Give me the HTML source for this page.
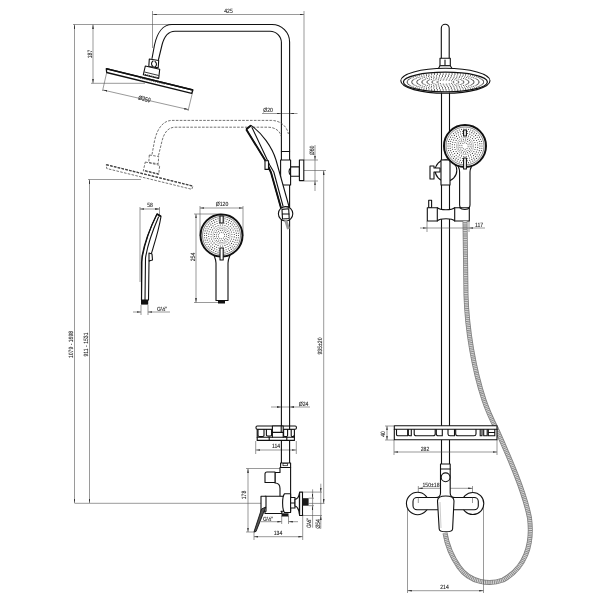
<!DOCTYPE html>
<html><head><meta charset="utf-8">
<style>
html,body{margin:0;padding:0;background:#fff;}
svg{display:block;}
.o{fill:none;stroke:#111;stroke-width:1.1;stroke-linejoin:round;stroke-linecap:round}
.w{fill:#fff;stroke:#111;stroke-width:1.1;stroke-linejoin:round}
.k{fill:none;stroke:#111;stroke-width:1.9;stroke-linejoin:round}
.d{fill:none;stroke:#555;stroke-width:0.6}
.ds{fill:none;stroke:#444;stroke-width:0.75;stroke-dasharray:2.6 1.3}
.dk{fill:none;stroke:#444;stroke-width:1.3;stroke-dasharray:2.4 1.4}
text{font-family:"Liberation Sans",sans-serif;font-size:62px;fill:#222;stroke:#222;stroke-width:1.2;text-rendering:geometricPrecision;-webkit-font-smoothing:antialiased}
svg{will-change:transform}
</style></head>
<body>
<svg width="600" height="600" viewBox="0 0 600 600">
<defs>
<marker id="a" viewBox="0 0 6 2.4" refX="6" refY="1.2" markerWidth="4.4" markerHeight="1.76" markerUnits="userSpaceOnUse" orient="auto-start-reverse">
<path d="M0,0 L6,1.2 L0,2.4 z" fill="#333"/>
</marker>
<pattern id="dots" width="2.5" height="2.5" patternUnits="userSpaceOnUse">
<circle cx="1.25" cy="1.25" r="0.62" fill="#555"/>
</pattern>
</defs>
<rect width="600" height="600" fill="#fff"/>

<!-- ============ LEFT VIEW: DIMENSIONS ============ -->
<g class="d">
<!-- 425 -->
<path d="M152.5,11 V48"/><path d="M304,11 V160"/>
<path d="M152.5,14.5 H304" marker-start="url(#a)" marker-end="url(#a)"/>
<!-- top extension y=24.5 -->
<path d="M73,24.5 H172"/>
<!-- 187 -->
<path d="M93,24.5 V83.3" marker-start="url(#a)" marker-end="url(#a)"/>
<path d="M91,83.3 H145"/>
<!-- 1079-1698 -->
<path d="M74.5,24.5 V503" marker-start="url(#a)" marker-end="url(#a)"/>
<!-- 911-1531 -->
<path d="M89.5,179.5 V503" marker-start="url(#a)" marker-end="url(#a)"/>
<path d="M88,179.5 H141"/>
<path d="M74.5,503.3 H264.5"/>
<!-- Ø250 -->
<path d="M106.7,72.5 L102.5,91"/><path d="M192.5,92.5 L188,111"/>
<path d="M103,90 L188.5,109.6" marker-start="url(#a)" marker-end="url(#a)"/>
<!-- Ø20 -->
<path d="M262,113.5 H281.4" marker-end="url(#a)"/><path d="M297.5,113.5 H289.6" marker-end="url(#a)"/><path d="M281.4,113.5 H289.6"/>
<!-- Ø60 -->
<path d="M304,160 H318"/><path d="M304,181 H318"/>
<path d="M315,145 V160" marker-end="url(#a)"/><path d="M315,191 V181" marker-end="url(#a)"/><path d="M315,160 V181"/>
<!-- 935±20 -->
<path d="M304,170.5 H326"/>
<path d="M323.7,170.5 V503.4" marker-start="url(#a)" marker-end="url(#a)"/>
<path d="M308.6,503.4 H324.5"/>
<!-- Ø24 -->
<path d="M271,407 H281.4" marker-end="url(#a)"/><path d="M310,407 H289.6" marker-end="url(#a)"/><path d="M281.4,407 H289.6"/>
<!-- 114 -->
<path d="M255.7,441 V454"/><path d="M296.3,441 V454"/>
<path d="M255.7,450 H296.3" marker-start="url(#a)" marker-end="url(#a)"/>
<!-- 178 -->
<path d="M246,468.5 H281"/>
<path d="M248,468.5 V532" marker-start="url(#a)" marker-end="url(#a)"/>
<path d="M246,532 H255"/>
<!-- 134 -->
<path d="M254,532 V540"/><path d="M302.7,514 V540"/>
<path d="M254,536.7 H302.7" marker-start="url(#a)" marker-end="url(#a)"/>
<!-- G1/2 mixer bottom -->
<path d="M281.7,516 V524"/><path d="M288.5,516 V524"/>
<path d="M261,521.7 H281.7" marker-end="url(#a)"/><path d="M298,521.7 H288.5" marker-end="url(#a)"/>
<!-- right dims G1/2 Ø54 -->
<path d="M302.5,492.1 H322"/><path d="M302.5,515.5 H322"/>
<path d="M308.6,498.2 H314"/><path d="M308.6,505.7 H314"/>
<path d="M312.6,489.3 V498.2" marker-end="url(#a)"/><path d="M312.6,527.7 V505.7" marker-end="url(#a)"/><path d="M312.6,498.2 V505.7"/>
<path d="M320.8,483.7 V492.1" marker-end="url(#a)"/><path d="M320.8,528.6 V515.5" marker-end="url(#a)"/><path d="M320.8,492.1 V515.5"/>
<!-- 58 -->
<path d="M140,207 V282"/><path d="M159.5,207 V215"/>
<path d="M140,209 H159.5" marker-start="url(#a)" marker-end="url(#a)"/>
<!-- G1/2 side handshower -->
<path d="M141,305 V315"/><path d="M148,305 V315"/>
<path d="M133,312 H141" marker-end="url(#a)"/><path d="M170,312 H148" marker-end="url(#a)"/>
<!-- Ø120 -->
<path d="M200,206 V236"/><path d="M243,206 V236"/>
<path d="M200,208 H243" marker-start="url(#a)" marker-end="url(#a)"/>
<!-- 254 -->
<path d="M194,214 H221"/><path d="M194,302.5 H221"/>
<path d="M196,214 V302.5" marker-start="url(#a)" marker-end="url(#a)"/>
</g>

<!-- dimension texts left -->
<text transform="translate(228.5,13) scale(0.082,0.1)" text-anchor="middle">425</text>
<text transform="translate(92,54) rotate(-90) scale(0.082,0.1)" text-anchor="middle">187</text>
<text transform="translate(73,344.5) rotate(-90) scale(0.082,0.1)" text-anchor="middle">1079 - 1698</text>
<text transform="translate(87.8,344.5) rotate(-90) scale(0.082,0.1)" text-anchor="middle">911 - 1531</text>
<text transform="translate(144,101) rotate(13) scale(0.082,0.1)" text-anchor="middle">Ø250</text>
<text transform="translate(268,111.5) scale(0.082,0.1)" text-anchor="middle">Ø20</text>
<text transform="translate(313.5,150.5) rotate(-90) scale(0.082,0.1)" text-anchor="middle">Ø60</text>
<text transform="translate(321.5,346) rotate(-90) scale(0.082,0.1)" text-anchor="middle">935±20</text>
<text transform="translate(303.5,405.5) scale(0.082,0.1)" text-anchor="middle">Ø24</text>
<text transform="translate(276,447.5) scale(0.082,0.1)" text-anchor="middle">114</text>
<text transform="translate(246.3,495) rotate(-90) scale(0.082,0.1)" text-anchor="middle">178</text>
<text transform="translate(278,534.5) scale(0.082,0.1)" text-anchor="middle">134</text>
<text transform="translate(268,520.5) scale(0.082,0.1)" text-anchor="middle">G½"</text>
<text transform="translate(311.2,523) rotate(-90) scale(0.082,0.1)" text-anchor="middle">G½"</text>
<text transform="translate(319.8,524) rotate(-90) scale(0.082,0.1)" text-anchor="middle">Ø54</text>
<text transform="translate(150,207) scale(0.082,0.1)" text-anchor="middle">58</text>
<text transform="translate(162,310.5) scale(0.082,0.1)" text-anchor="middle">G½"</text>
<text transform="translate(222,205.5) scale(0.082,0.1)" text-anchor="middle">Ø120</text>
<text transform="translate(194.5,257) rotate(-90) scale(0.082,0.1)" text-anchor="middle">254</text>

<!-- ============ LEFT VIEW: SOLID PIPE ============ -->
<g class="o">
<path d="M152,58.5 L154.5,45 C157,33 163,24.5 172,24.5 L272,24.5 A17.6,17.6 0 0 1 289.6,42.1 V160"/>
<path d="M158.5,59.5 L162,45 C164,37 168,31.2 175,31.2 L270,31.2 A11.4,11.4 0 0 1 281.4,42.6 V160"/>
<path d="M281.4,151.5 H289.6"/>
</g>
<!-- nut + base -->
<path class="w" d="M149.3,59 L158.7,60.5 L158.2,67.7 L148.8,66.5 Z"/>
<path class="o" d="M153,61 C151,62.5 151,65 153,66.5 M155,61.5 C157,63 157,65.5 155,67" stroke-width="0.8"/>
<path class="w" d="M145.3,66 L159.7,69.3 L158.7,78.5 L143.3,74.8 Z"/>
<path d="M144.5,72 L158.8,75.5" stroke="#222" stroke-width="0.9"/>
<path d="M145,74.6 L158.6,77.9" stroke="#222" stroke-width="1.2" stroke-dasharray="1.3 0.8"/>
<!-- shower head slab -->
<path d="M106.3,68.6 L192.9,90 L191.8,93.3 L106.7,72.5 Z" fill="#fff" stroke="#111" stroke-width="1.3" stroke-linejoin="round"/>
<path d="M106.3,68.7 L192.9,90.1" stroke="#111" stroke-width="1.5"/>
<path d="M140,78 L165,84.2" stroke="#333" stroke-width="0.8" stroke-dasharray="1.2 1"/>

<!-- ============ LEFT VIEW: DASHED PIPE ============ -->
<g class="ds">
<path d="M152,154.5 L154.5,141 C157,129 163,120.4 172,120.4 L271.3,120.4 C280,120.4 287,126 288.4,134"/>
<path d="M158.5,155.5 L162,141 C164,133 168,127.2 175,127.2 L268,127.2 C275,127.2 280,131 281,135.8"/>
</g>
<g transform="translate(0,96)" class="ds">
<path d="M149.3,59 L158.7,60.5 L158.2,67.7 L148.8,66.5 Z"/>
<path d="M145.3,66 L159.7,69.3 L158.7,78.5 L143.3,74.8 Z"/>
<path d="M145,74.6 L158.6,77.9" stroke-width="1.1"/>
<path d="M106.3,68.6 L192.9,90 L191.8,93.3 L106.7,72.5 Z"/>
<path d="M106.3,68.7 L192.9,90.1" stroke-width="1.3"/>
</g>

<!-- ============ LEFT VIEW: JUNCTION/BRACKET ============ -->
<g class="o">
<path d="M281.4,185 V463"/><path d="M289.6,185 V463"/>
</g>
<rect class="w" x="280.6" y="160" width="10" height="25"/>
<rect class="w" x="290.6" y="166.9" width="8.8" height="9.4"/>
<path class="o" d="M290.6,168 C288.5,170 288.5,173 290.6,175"/>
<rect class="w" x="299.4" y="160" width="4.4" height="20.6"/>

<!-- hand shower side (in use) -->
<path class="w" d="M246.3,129.2 L251,125.4 C262,133 272,147 276,160 L289,206.5 L281,208 L271,172.5 L268,165 Z"/>
<path class="k" d="M246.3,129.5 L265.5,160.8 L271,172.5 L281,208"/>
<path class="o" d="M252,127.5 L269.7,165 L273.8,172 L283,206"/>
<path class="k" d="M246.3,129.2 L251,125.4"/>
<rect class="w" x="265" y="160.8" width="3.5" height="8.6"/>
<!-- holder -->
<circle class="w" cx="285.6" cy="213.8" r="7.2"/>
<path class="w" d="M282,209.4 L288.7,208.8 L289.2,218.5 L282.5,219 Z"/>
<path class="o" d="M282.3,214 H289"/>
<path d="M285.6,220 L288.5,229" stroke="#999" stroke-width="3" fill="none"/>

<!-- ============ SIDE HANDSHOWER (58) ============ -->
<path class="w" d="M157,214 L161,216.5 C158,235 152,250 149,262 L148.5,300 L141.5,300 L141.5,262 C144,245 150,228 157,214 Z"/>
<path class="o" d="M157,214 C150,228 144,245 142,256 L141.5,300"/>
<path class="o" d="M158.5,217 C152,232 147,248 145.5,258 L145,300"/>
<path class="k" d="M157,214 L161,216.5"/>
<path class="w" d="M149,253 L152,254 L152.5,260 L149,261 Z"/>
<rect x="141" y="300" width="7.2" height="4.6" fill="#111"/>

<!-- ============ FRONT HANDSHOWER (Ø120) ============ -->
<path class="w" d="M213.5,254 C215,258 216,260 216,263 V300.5 H228 V263 C228,260 229,258 230.5,254"/>
<circle cx="221.5" cy="235.5" r="21" fill="#fff" stroke="#111" stroke-width="2"/>
<circle cx="221.5" cy="235.5" r="19" fill="none" stroke="#333" stroke-width="0.6"/>
<circle cx="221.5" cy="235.5" r="8.6" fill="none" stroke="#666" stroke-width="0.4"/>
<g fill="#333"><circle cx="231.93" cy="236.68" r="0.55"/><circle cx="231.41" cy="238.97" r="0.55"/><circle cx="230.39" cy="241.09" r="0.55"/><circle cx="228.92" cy="242.92" r="0.55"/><circle cx="227.09" cy="244.39" r="0.55"/><circle cx="224.97" cy="245.41" r="0.55"/><circle cx="222.68" cy="245.93" r="0.55"/><circle cx="220.32" cy="245.93" r="0.55"/><circle cx="218.03" cy="245.41" r="0.55"/><circle cx="215.91" cy="244.39" r="0.55"/><circle cx="214.08" cy="242.92" r="0.55"/><circle cx="212.61" cy="241.09" r="0.55"/><circle cx="211.59" cy="238.97" r="0.55"/><circle cx="211.07" cy="236.68" r="0.55"/><circle cx="211.07" cy="234.32" r="0.55"/><circle cx="211.59" cy="232.03" r="0.55"/><circle cx="212.61" cy="229.91" r="0.55"/><circle cx="214.08" cy="228.08" r="0.55"/><circle cx="215.91" cy="226.61" r="0.55"/><circle cx="218.03" cy="225.59" r="0.55"/><circle cx="220.32" cy="225.07" r="0.55"/><circle cx="222.68" cy="225.07" r="0.55"/><circle cx="224.97" cy="225.59" r="0.55"/><circle cx="227.09" cy="226.61" r="0.55"/><circle cx="228.92" cy="228.08" r="0.55"/><circle cx="230.39" cy="229.91" r="0.55"/><circle cx="231.41" cy="232.03" r="0.55"/><circle cx="231.93" cy="234.32" r="0.55"/><circle cx="234.22" cy="236.92" r="0.55"/><circle cx="233.74" cy="239.23" r="0.55"/><circle cx="232.85" cy="241.42" r="0.55"/><circle cx="231.57" cy="243.40" r="0.55"/><circle cx="229.95" cy="245.12" r="0.55"/><circle cx="228.04" cy="246.51" r="0.55"/><circle cx="225.90" cy="247.52" r="0.55"/><circle cx="223.62" cy="248.12" r="0.55"/><circle cx="221.26" cy="248.30" r="0.55"/><circle cx="218.92" cy="248.04" r="0.55"/><circle cx="216.66" cy="247.35" r="0.55"/><circle cx="214.56" cy="246.26" r="0.55"/><circle cx="212.70" cy="244.80" r="0.55"/><circle cx="211.14" cy="243.02" r="0.55"/><circle cx="209.94" cy="240.99" r="0.55"/><circle cx="209.13" cy="238.77" r="0.55"/><circle cx="208.73" cy="236.45" r="0.55"/><circle cx="208.78" cy="234.08" r="0.55"/><circle cx="209.26" cy="231.77" r="0.55"/><circle cx="210.15" cy="229.58" r="0.55"/><circle cx="211.43" cy="227.60" r="0.55"/><circle cx="213.05" cy="225.88" r="0.55"/><circle cx="214.96" cy="224.49" r="0.55"/><circle cx="217.10" cy="223.48" r="0.55"/><circle cx="219.38" cy="222.88" r="0.55"/><circle cx="221.74" cy="222.70" r="0.55"/><circle cx="224.08" cy="222.96" r="0.55"/><circle cx="226.34" cy="223.65" r="0.55"/><circle cx="228.44" cy="224.74" r="0.55"/><circle cx="230.30" cy="226.20" r="0.55"/><circle cx="231.86" cy="227.98" r="0.55"/><circle cx="233.06" cy="230.01" r="0.55"/><circle cx="233.87" cy="232.23" r="0.55"/><circle cx="234.27" cy="234.55" r="0.55"/><circle cx="236.50" cy="235.50" r="0.55"/><circle cx="236.32" cy="237.85" r="0.55"/><circle cx="235.77" cy="240.14" r="0.55"/><circle cx="234.87" cy="242.31" r="0.55"/><circle cx="233.64" cy="244.32" r="0.55"/><circle cx="232.11" cy="246.11" r="0.55"/><circle cx="230.32" cy="247.64" r="0.55"/><circle cx="228.31" cy="248.87" r="0.55"/><circle cx="226.14" cy="249.77" r="0.55"/><circle cx="223.85" cy="250.32" r="0.55"/><circle cx="221.50" cy="250.50" r="0.55"/><circle cx="219.15" cy="250.32" r="0.55"/><circle cx="216.86" cy="249.77" r="0.55"/><circle cx="214.69" cy="248.87" r="0.55"/><circle cx="212.68" cy="247.64" r="0.55"/><circle cx="210.89" cy="246.11" r="0.55"/><circle cx="209.36" cy="244.32" r="0.55"/><circle cx="208.13" cy="242.31" r="0.55"/><circle cx="207.23" cy="240.14" r="0.55"/><circle cx="206.68" cy="237.85" r="0.55"/><circle cx="206.50" cy="235.50" r="0.55"/><circle cx="206.68" cy="233.15" r="0.55"/><circle cx="207.23" cy="230.86" r="0.55"/><circle cx="208.13" cy="228.69" r="0.55"/><circle cx="209.36" cy="226.68" r="0.55"/><circle cx="210.89" cy="224.89" r="0.55"/><circle cx="212.68" cy="223.36" r="0.55"/><circle cx="214.69" cy="222.13" r="0.55"/><circle cx="216.86" cy="221.23" r="0.55"/><circle cx="219.15" cy="220.68" r="0.55"/><circle cx="221.50" cy="220.50" r="0.55"/><circle cx="223.85" cy="220.68" r="0.55"/><circle cx="226.14" cy="221.23" r="0.55"/><circle cx="228.31" cy="222.13" r="0.55"/><circle cx="230.32" cy="223.36" r="0.55"/><circle cx="232.11" cy="224.89" r="0.55"/><circle cx="233.64" cy="226.68" r="0.55"/><circle cx="234.87" cy="228.69" r="0.55"/><circle cx="235.77" cy="230.86" r="0.55"/><circle cx="236.32" cy="233.15" r="0.55"/><circle cx="238.50" cy="235.50" r="0.55"/><circle cx="238.34" cy="237.81" r="0.55"/><circle cx="237.87" cy="240.09" r="0.55"/><circle cx="237.09" cy="242.27" r="0.55"/><circle cx="236.03" cy="244.33" r="0.55"/><circle cx="234.69" cy="246.23" r="0.55"/><circle cx="233.10" cy="247.92" r="0.55"/><circle cx="231.30" cy="249.39" r="0.55"/><circle cx="229.32" cy="250.59" r="0.55"/><circle cx="227.19" cy="251.52" r="0.55"/><circle cx="224.96" cy="252.14" r="0.55"/><circle cx="222.66" cy="252.46" r="0.55"/><circle cx="220.34" cy="252.46" r="0.55"/><circle cx="218.04" cy="252.14" r="0.55"/><circle cx="215.81" cy="251.52" r="0.55"/><circle cx="213.68" cy="250.59" r="0.55"/><circle cx="211.70" cy="249.39" r="0.55"/><circle cx="209.90" cy="247.92" r="0.55"/><circle cx="208.31" cy="246.23" r="0.55"/><circle cx="206.97" cy="244.33" r="0.55"/><circle cx="205.91" cy="242.27" r="0.55"/><circle cx="205.13" cy="240.09" r="0.55"/><circle cx="204.66" cy="237.81" r="0.55"/><circle cx="204.50" cy="235.50" r="0.55"/><circle cx="204.66" cy="233.19" r="0.55"/><circle cx="205.13" cy="230.91" r="0.55"/><circle cx="205.91" cy="228.73" r="0.55"/><circle cx="206.97" cy="226.67" r="0.55"/><circle cx="208.31" cy="224.77" r="0.55"/><circle cx="209.90" cy="223.08" r="0.55"/><circle cx="211.70" cy="221.61" r="0.55"/><circle cx="213.68" cy="220.41" r="0.55"/><circle cx="215.81" cy="219.48" r="0.55"/><circle cx="218.04" cy="218.86" r="0.55"/><circle cx="220.34" cy="218.54" r="0.55"/><circle cx="222.66" cy="218.54" r="0.55"/><circle cx="224.96" cy="218.86" r="0.55"/><circle cx="227.19" cy="219.48" r="0.55"/><circle cx="229.32" cy="220.41" r="0.55"/><circle cx="231.30" cy="221.61" r="0.55"/><circle cx="233.10" cy="223.08" r="0.55"/><circle cx="234.69" cy="224.77" r="0.55"/><circle cx="236.03" cy="226.67" r="0.55"/><circle cx="237.09" cy="228.73" r="0.55"/><circle cx="237.87" cy="230.91" r="0.55"/><circle cx="238.34" cy="233.19" r="0.55"/></g><g fill="#333"><circle cx="224.60" cy="236.30" r="0.5"/><circle cx="223.54" cy="237.97" r="0.5"/><circle cx="221.70" cy="238.69" r="0.5"/><circle cx="219.79" cy="238.20" r="0.5"/><circle cx="218.52" cy="236.68" r="0.5"/><circle cx="218.40" cy="234.70" r="0.5"/><circle cx="219.46" cy="233.03" r="0.5"/><circle cx="221.30" cy="232.31" r="0.5"/><circle cx="223.21" cy="232.80" r="0.5"/><circle cx="224.48" cy="234.32" r="0.5"/><circle cx="226.64" cy="236.31" r="0.5"/><circle cx="225.93" cy="238.22" r="0.5"/><circle cx="224.56" cy="239.71" r="0.5"/><circle cx="222.71" cy="240.56" r="0.5"/><circle cx="220.69" cy="240.64" r="0.5"/><circle cx="218.78" cy="239.93" r="0.5"/><circle cx="217.29" cy="238.56" r="0.5"/><circle cx="216.44" cy="236.71" r="0.5"/><circle cx="216.36" cy="234.69" r="0.5"/><circle cx="217.07" cy="232.78" r="0.5"/><circle cx="218.44" cy="231.29" r="0.5"/><circle cx="220.29" cy="230.44" r="0.5"/><circle cx="222.31" cy="230.36" r="0.5"/><circle cx="224.22" cy="231.07" r="0.5"/><circle cx="225.71" cy="232.44" r="0.5"/><circle cx="226.56" cy="234.29" r="0.5"/><circle cx="228.50" cy="235.50" r="0.5"/><circle cx="228.19" cy="237.56" r="0.5"/><circle cx="227.28" cy="239.44" r="0.5"/><circle cx="225.86" cy="240.97" r="0.5"/><circle cx="224.06" cy="242.02" r="0.5"/><circle cx="222.02" cy="242.48" r="0.5"/><circle cx="219.94" cy="242.32" r="0.5"/><circle cx="218.00" cy="241.56" r="0.5"/><circle cx="216.37" cy="240.26" r="0.5"/><circle cx="215.19" cy="238.54" r="0.5"/><circle cx="214.58" cy="236.54" r="0.5"/><circle cx="214.58" cy="234.46" r="0.5"/><circle cx="215.19" cy="232.46" r="0.5"/><circle cx="216.37" cy="230.74" r="0.5"/><circle cx="218.00" cy="229.44" r="0.5"/><circle cx="219.94" cy="228.68" r="0.5"/><circle cx="222.02" cy="228.52" r="0.5"/><circle cx="224.06" cy="228.98" r="0.5"/><circle cx="225.86" cy="230.03" r="0.5"/><circle cx="227.28" cy="231.56" r="0.5"/><circle cx="228.19" cy="233.44" r="0.5"/></g>
<rect class="w" x="220" y="216" width="3.2" height="7"/>
<rect class="w" x="220" y="248" width="3.2" height="12"/>
<rect x="218" y="300.5" width="7" height="3" fill="#111"/>

<!-- ============ SOAP TRAY (side) ============ -->
<g>
<rect class="w" x="257.2" y="429.2" width="37.2" height="11.2"/>
<rect class="w" x="256" y="426" width="40.4" height="3.2" rx="1.2"/>
<path class="o" d="M257.2,437.2 H294.4 M269.2,437.2 V440.4 M286.8,437.2 V440.4"/>
<path class="o" d="M258,429.5 V435.5 C258,437 264,437 264,435.5 V429.5"/>
<path class="o" d="M266.4,429.5 V435 C266.4,436.5 271.6,436.5 271.6,435 V429.5"/>
<path class="o" d="M283.6,429.5 V435.5 C283.6,437 287.6,437 287.6,435.5 V429.5"/>
<path class="o" d="M291.2,429.5 V435.5 C291.2,437 294,437 294,435.5"/>
<rect class="w" x="272.4" y="426" width="10.8" height="6.4"/>
<path class="o" d="M272.4,432.4 V437.2 M283.2,432.4 V437.2"/>
<path class="o" d="M281.2,426 V432 M289.6,426 V429.2"/>
</g>

<!-- ============ MIXER (side) ============ -->
<g>
<path class="w" d="M280.6,463 H290.6 V467.5 H280.6 Z"/>
<rect x="283" y="463.5" width="4.5" height="2.2" fill="#fff" stroke="#111" stroke-width="0.7"/>
<path class="w" d="M280,467.5 H290.6 V496.5 H280 V488.5 C280,485 278,483 275,483 V472.5 H280 Z"/>
<path class="w" d="M265,474 C265,472.8 265.8,472 267,472 H275 V482.5 H265 Z"/>
<path class="w" d="M265,496.2 H290.6 V511.3 H281 C282,512 282,513 281.7,513.5 H265 Z"/>
<path class="w" d="M261,496.2 H266 V511.3 H261 Z"/>
<path class="w" d="M284.4,493.8 H290.6 V512.5 H284.4 C282,509 282,497 284.4,493.8 Z"/>
<path class="w" d="M290.6,497.5 H295 V508 H290.6 Z"/>
<path class="o" d="M290.6,503 H295"/>
<path class="w" d="M295,499.4 C297.5,499 299,496 299.4,493 V514.4 C299,511 297.5,506.5 295,506 Z"/>
<rect class="w" x="299.6" y="492.1" width="2.9" height="23.4"/>
<rect x="302.3" y="498.2" width="6.3" height="7.5" fill="#1a1a1a"/>
<rect x="281.5" y="513.3" width="7" height="3.2" fill="#1a1a1a"/>
<path d="M261.5,509 L265.8,507 L256,531.5 L254,531.8 Z" fill="#555" stroke="#111" stroke-width="0.9" stroke-linejoin="round"/>
</g>

<!-- ============ FRONT VIEW ============ -->
<!-- pipe top -->
<path class="o" d="M441.3,58.3 V28.2 A3.95,3.95 0 0 1 449.2,28.2 V58.3"/>
<path class="w" d="M440,58.3 H450.3 V65.8 H440 Z"/>
<path class="o" d="M445,60 V65.8"/>
<path class="w" d="M438,69.2 L440,65.8 H450.3 L452.5,69.2"/>
<!-- head -->
<ellipse cx="445.4" cy="80.8" rx="44.6" ry="12.5" fill="#fff" stroke="#111" stroke-width="1.1"/>
<ellipse cx="445.4" cy="82" rx="42" ry="9.8" fill="none" stroke="#111" stroke-width="1.2"/>
<g fill="#333"><circle cx="453.80" cy="82.00" r="0.5"/><circle cx="453.23" cy="82.71" r="0.5"/><circle cx="451.61" cy="83.32" r="0.5"/><circle cx="449.14" cy="83.75" r="0.5"/><circle cx="446.18" cy="83.95" r="0.5"/><circle cx="443.10" cy="83.89" r="0.5"/><circle cx="440.34" cy="83.56" r="0.5"/><circle cx="438.26" cy="83.03" r="0.5"/><circle cx="437.14" cy="82.36" r="0.5"/><circle cx="437.14" cy="81.64" r="0.5"/><circle cx="438.26" cy="80.97" r="0.5"/><circle cx="440.34" cy="80.44" r="0.5"/><circle cx="443.10" cy="80.11" r="0.5"/><circle cx="446.18" cy="80.05" r="0.5"/><circle cx="449.14" cy="80.25" r="0.5"/><circle cx="451.61" cy="80.68" r="0.5"/><circle cx="453.23" cy="81.29" r="0.5"/><circle cx="458.76" cy="82.35" r="0.5"/><circle cx="458.09" cy="83.04" r="0.5"/><circle cx="456.78" cy="83.67" r="0.5"/><circle cx="454.90" cy="84.22" r="0.5"/><circle cx="452.55" cy="84.66" r="0.5"/><circle cx="449.84" cy="84.96" r="0.5"/><circle cx="446.90" cy="85.12" r="0.5"/><circle cx="443.90" cy="85.12" r="0.5"/><circle cx="440.96" cy="84.96" r="0.5"/><circle cx="438.25" cy="84.66" r="0.5"/><circle cx="435.90" cy="84.22" r="0.5"/><circle cx="434.02" cy="83.67" r="0.5"/><circle cx="432.71" cy="83.04" r="0.5"/><circle cx="432.04" cy="82.35" r="0.5"/><circle cx="432.04" cy="81.65" r="0.5"/><circle cx="432.71" cy="80.96" r="0.5"/><circle cx="434.02" cy="80.33" r="0.5"/><circle cx="435.90" cy="79.78" r="0.5"/><circle cx="438.25" cy="79.34" r="0.5"/><circle cx="440.96" cy="79.04" r="0.5"/><circle cx="443.90" cy="78.88" r="0.5"/><circle cx="446.90" cy="78.88" r="0.5"/><circle cx="449.84" cy="79.04" r="0.5"/><circle cx="452.55" cy="79.34" r="0.5"/><circle cx="454.90" cy="79.78" r="0.5"/><circle cx="456.78" cy="80.33" r="0.5"/><circle cx="458.09" cy="80.96" r="0.5"/><circle cx="458.76" cy="81.65" r="0.5"/><circle cx="463.88" cy="82.00" r="0.5"/><circle cx="463.64" cy="82.69" r="0.5"/><circle cx="462.93" cy="83.37" r="0.5"/><circle cx="461.76" cy="84.00" r="0.5"/><circle cx="460.17" cy="84.59" r="0.5"/><circle cx="458.20" cy="85.11" r="0.5"/><circle cx="455.90" cy="85.55" r="0.5"/><circle cx="453.32" cy="85.90" r="0.5"/><circle cx="450.54" cy="86.14" r="0.5"/><circle cx="447.63" cy="86.28" r="0.5"/><circle cx="444.66" cy="86.31" r="0.5"/><circle cx="441.70" cy="86.22" r="0.5"/><circle cx="438.85" cy="86.03" r="0.5"/><circle cx="436.16" cy="85.73" r="0.5"/><circle cx="433.71" cy="85.34" r="0.5"/><circle cx="431.57" cy="84.86" r="0.5"/><circle cx="429.78" cy="84.30" r="0.5"/><circle cx="428.40" cy="83.69" r="0.5"/><circle cx="427.46" cy="83.03" r="0.5"/><circle cx="426.98" cy="82.35" r="0.5"/><circle cx="426.98" cy="81.65" r="0.5"/><circle cx="427.46" cy="80.97" r="0.5"/><circle cx="428.40" cy="80.31" r="0.5"/><circle cx="429.78" cy="79.70" r="0.5"/><circle cx="431.57" cy="79.14" r="0.5"/><circle cx="433.71" cy="78.66" r="0.5"/><circle cx="436.16" cy="78.27" r="0.5"/><circle cx="438.85" cy="77.97" r="0.5"/><circle cx="441.70" cy="77.78" r="0.5"/><circle cx="444.66" cy="77.69" r="0.5"/><circle cx="447.63" cy="77.72" r="0.5"/><circle cx="450.54" cy="77.86" r="0.5"/><circle cx="453.32" cy="78.10" r="0.5"/><circle cx="455.90" cy="78.45" r="0.5"/><circle cx="458.20" cy="78.89" r="0.5"/><circle cx="460.17" cy="79.41" r="0.5"/><circle cx="461.76" cy="80.00" r="0.5"/><circle cx="462.93" cy="80.63" r="0.5"/><circle cx="463.64" cy="81.31" r="0.5"/><circle cx="468.87" cy="82.34" r="0.5"/><circle cx="468.50" cy="83.03" r="0.5"/><circle cx="467.77" cy="83.70" r="0.5"/><circle cx="466.68" cy="84.34" r="0.5"/><circle cx="465.26" cy="84.94" r="0.5"/><circle cx="463.52" cy="85.50" r="0.5"/><circle cx="461.50" cy="86.00" r="0.5"/><circle cx="459.22" cy="86.44" r="0.5"/><circle cx="456.73" cy="86.81" r="0.5"/><circle cx="454.06" cy="87.10" r="0.5"/><circle cx="451.25" cy="87.32" r="0.5"/><circle cx="448.35" cy="87.44" r="0.5"/><circle cx="445.40" cy="87.49" r="0.5"/><circle cx="442.45" cy="87.44" r="0.5"/><circle cx="439.55" cy="87.32" r="0.5"/><circle cx="436.74" cy="87.10" r="0.5"/><circle cx="434.07" cy="86.81" r="0.5"/><circle cx="431.58" cy="86.44" r="0.5"/><circle cx="429.30" cy="86.00" r="0.5"/><circle cx="427.28" cy="85.50" r="0.5"/><circle cx="425.54" cy="84.94" r="0.5"/><circle cx="424.12" cy="84.34" r="0.5"/><circle cx="423.03" cy="83.70" r="0.5"/><circle cx="422.30" cy="83.03" r="0.5"/><circle cx="421.93" cy="82.34" r="0.5"/><circle cx="421.93" cy="81.66" r="0.5"/><circle cx="422.30" cy="80.97" r="0.5"/><circle cx="423.03" cy="80.30" r="0.5"/><circle cx="424.12" cy="79.66" r="0.5"/><circle cx="425.54" cy="79.06" r="0.5"/><circle cx="427.28" cy="78.50" r="0.5"/><circle cx="429.30" cy="78.00" r="0.5"/><circle cx="431.58" cy="77.56" r="0.5"/><circle cx="434.07" cy="77.19" r="0.5"/><circle cx="436.74" cy="76.90" r="0.5"/><circle cx="439.55" cy="76.68" r="0.5"/><circle cx="442.45" cy="76.56" r="0.5"/><circle cx="445.40" cy="76.51" r="0.5"/><circle cx="448.35" cy="76.56" r="0.5"/><circle cx="451.25" cy="76.68" r="0.5"/><circle cx="454.06" cy="76.90" r="0.5"/><circle cx="456.73" cy="77.19" r="0.5"/><circle cx="459.22" cy="77.56" r="0.5"/><circle cx="461.50" cy="78.00" r="0.5"/><circle cx="463.52" cy="78.50" r="0.5"/><circle cx="465.26" cy="79.06" r="0.5"/><circle cx="466.68" cy="79.66" r="0.5"/><circle cx="467.77" cy="80.30" r="0.5"/><circle cx="468.50" cy="80.97" r="0.5"/><circle cx="468.87" cy="81.66" r="0.5"/><circle cx="473.96" cy="82.00" r="0.5"/><circle cx="473.80" cy="82.70" r="0.5"/><circle cx="473.34" cy="83.39" r="0.5"/><circle cx="472.56" cy="84.06" r="0.5"/><circle cx="471.49" cy="84.71" r="0.5"/><circle cx="470.13" cy="85.33" r="0.5"/><circle cx="468.51" cy="85.92" r="0.5"/><circle cx="466.62" cy="86.46" r="0.5"/><circle cx="464.51" cy="86.95" r="0.5"/><circle cx="462.19" cy="87.39" r="0.5"/><circle cx="459.68" cy="87.77" r="0.5"/><circle cx="457.02" cy="88.09" r="0.5"/><circle cx="454.23" cy="88.34" r="0.5"/><circle cx="451.34" cy="88.52" r="0.5"/><circle cx="448.39" cy="88.63" r="0.5"/><circle cx="445.40" cy="88.66" r="0.5"/><circle cx="442.41" cy="88.63" r="0.5"/><circle cx="439.46" cy="88.52" r="0.5"/><circle cx="436.57" cy="88.34" r="0.5"/><circle cx="433.78" cy="88.09" r="0.5"/><circle cx="431.12" cy="87.77" r="0.5"/><circle cx="428.61" cy="87.39" r="0.5"/><circle cx="426.29" cy="86.95" r="0.5"/><circle cx="424.18" cy="86.46" r="0.5"/><circle cx="422.29" cy="85.92" r="0.5"/><circle cx="420.67" cy="85.33" r="0.5"/><circle cx="419.31" cy="84.71" r="0.5"/><circle cx="418.24" cy="84.06" r="0.5"/><circle cx="417.46" cy="83.39" r="0.5"/><circle cx="417.00" cy="82.70" r="0.5"/><circle cx="416.84" cy="82.00" r="0.5"/><circle cx="417.00" cy="81.30" r="0.5"/><circle cx="417.46" cy="80.61" r="0.5"/><circle cx="418.24" cy="79.94" r="0.5"/><circle cx="419.31" cy="79.29" r="0.5"/><circle cx="420.67" cy="78.67" r="0.5"/><circle cx="422.29" cy="78.08" r="0.5"/><circle cx="424.18" cy="77.54" r="0.5"/><circle cx="426.29" cy="77.05" r="0.5"/><circle cx="428.61" cy="76.61" r="0.5"/><circle cx="431.12" cy="76.23" r="0.5"/><circle cx="433.78" cy="75.91" r="0.5"/><circle cx="436.57" cy="75.66" r="0.5"/><circle cx="439.46" cy="75.48" r="0.5"/><circle cx="442.41" cy="75.37" r="0.5"/><circle cx="445.40" cy="75.34" r="0.5"/><circle cx="448.39" cy="75.37" r="0.5"/><circle cx="451.34" cy="75.48" r="0.5"/><circle cx="454.23" cy="75.66" r="0.5"/><circle cx="457.02" cy="75.91" r="0.5"/><circle cx="459.68" cy="76.23" r="0.5"/><circle cx="462.19" cy="76.61" r="0.5"/><circle cx="464.51" cy="77.05" r="0.5"/><circle cx="466.62" cy="77.54" r="0.5"/><circle cx="468.51" cy="78.08" r="0.5"/><circle cx="470.13" cy="78.67" r="0.5"/><circle cx="471.49" cy="79.29" r="0.5"/><circle cx="472.56" cy="79.94" r="0.5"/><circle cx="473.34" cy="80.61" r="0.5"/><circle cx="473.80" cy="81.30" r="0.5"/><circle cx="478.97" cy="82.35" r="0.5"/><circle cx="478.70" cy="83.04" r="0.5"/><circle cx="478.18" cy="83.72" r="0.5"/><circle cx="477.40" cy="84.39" r="0.5"/><circle cx="476.37" cy="85.04" r="0.5"/><circle cx="475.10" cy="85.67" r="0.5"/><circle cx="473.59" cy="86.27" r="0.5"/><circle cx="471.87" cy="86.83" r="0.5"/><circle cx="469.93" cy="87.36" r="0.5"/><circle cx="467.81" cy="87.84" r="0.5"/><circle cx="465.51" cy="88.28" r="0.5"/><circle cx="463.05" cy="88.67" r="0.5"/><circle cx="460.46" cy="89.01" r="0.5"/><circle cx="457.74" cy="89.29" r="0.5"/><circle cx="454.93" cy="89.52" r="0.5"/><circle cx="452.05" cy="89.69" r="0.5"/><circle cx="449.11" cy="89.79" r="0.5"/><circle cx="446.14" cy="89.84" r="0.5"/><circle cx="443.17" cy="89.82" r="0.5"/><circle cx="440.22" cy="89.75" r="0.5"/><circle cx="437.30" cy="89.61" r="0.5"/><circle cx="434.45" cy="89.41" r="0.5"/><circle cx="431.69" cy="89.16" r="0.5"/><circle cx="429.03" cy="88.85" r="0.5"/><circle cx="426.50" cy="88.48" r="0.5"/><circle cx="424.12" cy="88.07" r="0.5"/><circle cx="421.91" cy="87.60" r="0.5"/><circle cx="419.87" cy="87.10" r="0.5"/><circle cx="418.04" cy="86.55" r="0.5"/><circle cx="416.43" cy="85.97" r="0.5"/><circle cx="415.04" cy="85.36" r="0.5"/><circle cx="413.88" cy="84.72" r="0.5"/><circle cx="412.98" cy="84.06" r="0.5"/><circle cx="412.32" cy="83.38" r="0.5"/><circle cx="411.93" cy="82.69" r="0.5"/><circle cx="411.80" cy="82.00" r="0.5"/><circle cx="411.93" cy="81.31" r="0.5"/><circle cx="412.32" cy="80.62" r="0.5"/><circle cx="412.98" cy="79.94" r="0.5"/><circle cx="413.88" cy="79.28" r="0.5"/><circle cx="415.04" cy="78.64" r="0.5"/><circle cx="416.43" cy="78.03" r="0.5"/><circle cx="418.04" cy="77.45" r="0.5"/><circle cx="419.87" cy="76.90" r="0.5"/><circle cx="421.91" cy="76.40" r="0.5"/><circle cx="424.12" cy="75.93" r="0.5"/><circle cx="426.50" cy="75.52" r="0.5"/><circle cx="429.03" cy="75.15" r="0.5"/><circle cx="431.69" cy="74.84" r="0.5"/><circle cx="434.45" cy="74.59" r="0.5"/><circle cx="437.30" cy="74.39" r="0.5"/><circle cx="440.22" cy="74.25" r="0.5"/><circle cx="443.17" cy="74.18" r="0.5"/><circle cx="446.14" cy="74.16" r="0.5"/><circle cx="449.11" cy="74.21" r="0.5"/><circle cx="452.05" cy="74.31" r="0.5"/><circle cx="454.93" cy="74.48" r="0.5"/><circle cx="457.74" cy="74.71" r="0.5"/><circle cx="460.46" cy="74.99" r="0.5"/><circle cx="463.05" cy="75.33" r="0.5"/><circle cx="465.51" cy="75.72" r="0.5"/><circle cx="467.81" cy="76.16" r="0.5"/><circle cx="469.93" cy="76.64" r="0.5"/><circle cx="471.87" cy="77.17" r="0.5"/><circle cx="473.59" cy="77.73" r="0.5"/><circle cx="475.10" cy="78.33" r="0.5"/><circle cx="476.37" cy="78.96" r="0.5"/><circle cx="477.40" cy="79.61" r="0.5"/><circle cx="478.18" cy="80.28" r="0.5"/><circle cx="478.70" cy="80.96" r="0.5"/><circle cx="478.97" cy="81.65" r="0.5"/><circle cx="483.62" cy="82.00" r="0.5"/><circle cx="483.51" cy="82.69" r="0.5"/><circle cx="483.16" cy="83.38" r="0.5"/><circle cx="482.59" cy="84.06" r="0.5"/><circle cx="481.79" cy="84.72" r="0.5"/><circle cx="480.78" cy="85.37" r="0.5"/><circle cx="479.55" cy="86.00" r="0.5"/><circle cx="478.12" cy="86.61" r="0.5"/><circle cx="476.49" cy="87.19" r="0.5"/><circle cx="474.68" cy="87.73" r="0.5"/><circle cx="472.69" cy="88.24" r="0.5"/><circle cx="470.53" cy="88.72" r="0.5"/><circle cx="468.22" cy="89.15" r="0.5"/><circle cx="465.78" cy="89.54" r="0.5"/><circle cx="463.21" cy="89.89" r="0.5"/><circle cx="460.54" cy="90.19" r="0.5"/><circle cx="457.77" cy="90.44" r="0.5"/><circle cx="454.93" cy="90.64" r="0.5"/><circle cx="452.04" cy="90.78" r="0.5"/><circle cx="449.10" cy="90.88" r="0.5"/><circle cx="446.14" cy="90.92" r="0.5"/><circle cx="443.18" cy="90.90" r="0.5"/><circle cx="440.23" cy="90.84" r="0.5"/><circle cx="437.31" cy="90.72" r="0.5"/><circle cx="434.44" cy="90.54" r="0.5"/><circle cx="431.63" cy="90.32" r="0.5"/><circle cx="428.91" cy="90.05" r="0.5"/><circle cx="426.29" cy="89.72" r="0.5"/><circle cx="423.78" cy="89.35" r="0.5"/><circle cx="421.41" cy="88.94" r="0.5"/><circle cx="419.17" cy="88.49" r="0.5"/><circle cx="417.10" cy="87.99" r="0.5"/><circle cx="415.19" cy="87.46" r="0.5"/><circle cx="413.47" cy="86.90" r="0.5"/><circle cx="411.94" cy="86.31" r="0.5"/><circle cx="410.61" cy="85.69" r="0.5"/><circle cx="409.48" cy="85.05" r="0.5"/><circle cx="408.58" cy="84.39" r="0.5"/><circle cx="407.90" cy="83.72" r="0.5"/><circle cx="407.44" cy="83.04" r="0.5"/><circle cx="407.21" cy="82.35" r="0.5"/><circle cx="407.21" cy="81.65" r="0.5"/><circle cx="407.44" cy="80.96" r="0.5"/><circle cx="407.90" cy="80.28" r="0.5"/><circle cx="408.58" cy="79.61" r="0.5"/><circle cx="409.48" cy="78.95" r="0.5"/><circle cx="410.61" cy="78.31" r="0.5"/><circle cx="411.94" cy="77.69" r="0.5"/><circle cx="413.47" cy="77.10" r="0.5"/><circle cx="415.19" cy="76.54" r="0.5"/><circle cx="417.10" cy="76.01" r="0.5"/><circle cx="419.17" cy="75.51" r="0.5"/><circle cx="421.41" cy="75.06" r="0.5"/><circle cx="423.78" cy="74.65" r="0.5"/><circle cx="426.29" cy="74.28" r="0.5"/><circle cx="428.91" cy="73.95" r="0.5"/><circle cx="431.63" cy="73.68" r="0.5"/><circle cx="434.44" cy="73.46" r="0.5"/><circle cx="437.31" cy="73.28" r="0.5"/><circle cx="440.23" cy="73.16" r="0.5"/><circle cx="443.18" cy="73.10" r="0.5"/><circle cx="446.14" cy="73.08" r="0.5"/><circle cx="449.10" cy="73.12" r="0.5"/><circle cx="452.04" cy="73.22" r="0.5"/><circle cx="454.93" cy="73.36" r="0.5"/><circle cx="457.77" cy="73.56" r="0.5"/><circle cx="460.54" cy="73.81" r="0.5"/><circle cx="463.21" cy="74.11" r="0.5"/><circle cx="465.78" cy="74.46" r="0.5"/><circle cx="468.22" cy="74.85" r="0.5"/><circle cx="470.53" cy="75.28" r="0.5"/><circle cx="472.69" cy="75.76" r="0.5"/><circle cx="474.68" cy="76.27" r="0.5"/><circle cx="476.49" cy="76.81" r="0.5"/><circle cx="478.12" cy="77.39" r="0.5"/><circle cx="479.55" cy="78.00" r="0.5"/><circle cx="480.78" cy="78.63" r="0.5"/><circle cx="481.79" cy="79.28" r="0.5"/><circle cx="482.59" cy="79.94" r="0.5"/><circle cx="483.16" cy="80.62" r="0.5"/><circle cx="483.51" cy="81.31" r="0.5"/></g>
<!-- pipe main -->
<g class="o">
<path d="M441.5,93 V425.8"/><path d="M449.5,93 V425.8"/>
<path d="M441.5,439.8 V464"/><path d="M449.5,439.8 V464"/>
</g>
<!-- bracket circle -->
<circle class="w" cx="446" cy="170.5" r="10.8"/>
<rect class="w" x="441" y="160" width="9" height="25"/>
<path class="w" d="M430,166 H434 V168 H440 V172 H434 V179 H430 Z"/>
<!-- hand shower front -->
<path class="w" d="M455,162 C458,165 459.6,168 459.6,172 V205 C459.6,210 470,210 470,205 V172 C470,168 472,165 475,162"/>
<circle cx="465" cy="146" r="21" fill="#fff" stroke="#111" stroke-width="2"/>
<circle cx="465" cy="146" r="19" fill="none" stroke="#333" stroke-width="0.6"/>
<circle cx="465" cy="146" r="8.6" fill="none" stroke="#666" stroke-width="0.4"/>
<g fill="#333"><circle cx="475.43" cy="147.18" r="0.55"/><circle cx="474.91" cy="149.47" r="0.55"/><circle cx="473.89" cy="151.59" r="0.55"/><circle cx="472.42" cy="153.42" r="0.55"/><circle cx="470.59" cy="154.89" r="0.55"/><circle cx="468.47" cy="155.91" r="0.55"/><circle cx="466.18" cy="156.43" r="0.55"/><circle cx="463.82" cy="156.43" r="0.55"/><circle cx="461.53" cy="155.91" r="0.55"/><circle cx="459.41" cy="154.89" r="0.55"/><circle cx="457.58" cy="153.42" r="0.55"/><circle cx="456.11" cy="151.59" r="0.55"/><circle cx="455.09" cy="149.47" r="0.55"/><circle cx="454.57" cy="147.18" r="0.55"/><circle cx="454.57" cy="144.82" r="0.55"/><circle cx="455.09" cy="142.53" r="0.55"/><circle cx="456.11" cy="140.41" r="0.55"/><circle cx="457.58" cy="138.58" r="0.55"/><circle cx="459.41" cy="137.11" r="0.55"/><circle cx="461.53" cy="136.09" r="0.55"/><circle cx="463.82" cy="135.57" r="0.55"/><circle cx="466.18" cy="135.57" r="0.55"/><circle cx="468.47" cy="136.09" r="0.55"/><circle cx="470.59" cy="137.11" r="0.55"/><circle cx="472.42" cy="138.58" r="0.55"/><circle cx="473.89" cy="140.41" r="0.55"/><circle cx="474.91" cy="142.53" r="0.55"/><circle cx="475.43" cy="144.82" r="0.55"/><circle cx="477.72" cy="147.42" r="0.55"/><circle cx="477.24" cy="149.73" r="0.55"/><circle cx="476.35" cy="151.92" r="0.55"/><circle cx="475.07" cy="153.90" r="0.55"/><circle cx="473.45" cy="155.62" r="0.55"/><circle cx="471.54" cy="157.01" r="0.55"/><circle cx="469.40" cy="158.02" r="0.55"/><circle cx="467.12" cy="158.62" r="0.55"/><circle cx="464.76" cy="158.80" r="0.55"/><circle cx="462.42" cy="158.54" r="0.55"/><circle cx="460.16" cy="157.85" r="0.55"/><circle cx="458.06" cy="156.76" r="0.55"/><circle cx="456.20" cy="155.30" r="0.55"/><circle cx="454.64" cy="153.52" r="0.55"/><circle cx="453.44" cy="151.49" r="0.55"/><circle cx="452.63" cy="149.27" r="0.55"/><circle cx="452.23" cy="146.95" r="0.55"/><circle cx="452.28" cy="144.58" r="0.55"/><circle cx="452.76" cy="142.27" r="0.55"/><circle cx="453.65" cy="140.08" r="0.55"/><circle cx="454.93" cy="138.10" r="0.55"/><circle cx="456.55" cy="136.38" r="0.55"/><circle cx="458.46" cy="134.99" r="0.55"/><circle cx="460.60" cy="133.98" r="0.55"/><circle cx="462.88" cy="133.38" r="0.55"/><circle cx="465.24" cy="133.20" r="0.55"/><circle cx="467.58" cy="133.46" r="0.55"/><circle cx="469.84" cy="134.15" r="0.55"/><circle cx="471.94" cy="135.24" r="0.55"/><circle cx="473.80" cy="136.70" r="0.55"/><circle cx="475.36" cy="138.48" r="0.55"/><circle cx="476.56" cy="140.51" r="0.55"/><circle cx="477.37" cy="142.73" r="0.55"/><circle cx="477.77" cy="145.05" r="0.55"/><circle cx="480.00" cy="146.00" r="0.55"/><circle cx="479.82" cy="148.35" r="0.55"/><circle cx="479.27" cy="150.64" r="0.55"/><circle cx="478.37" cy="152.81" r="0.55"/><circle cx="477.14" cy="154.82" r="0.55"/><circle cx="475.61" cy="156.61" r="0.55"/><circle cx="473.82" cy="158.14" r="0.55"/><circle cx="471.81" cy="159.37" r="0.55"/><circle cx="469.64" cy="160.27" r="0.55"/><circle cx="467.35" cy="160.82" r="0.55"/><circle cx="465.00" cy="161.00" r="0.55"/><circle cx="462.65" cy="160.82" r="0.55"/><circle cx="460.36" cy="160.27" r="0.55"/><circle cx="458.19" cy="159.37" r="0.55"/><circle cx="456.18" cy="158.14" r="0.55"/><circle cx="454.39" cy="156.61" r="0.55"/><circle cx="452.86" cy="154.82" r="0.55"/><circle cx="451.63" cy="152.81" r="0.55"/><circle cx="450.73" cy="150.64" r="0.55"/><circle cx="450.18" cy="148.35" r="0.55"/><circle cx="450.00" cy="146.00" r="0.55"/><circle cx="450.18" cy="143.65" r="0.55"/><circle cx="450.73" cy="141.36" r="0.55"/><circle cx="451.63" cy="139.19" r="0.55"/><circle cx="452.86" cy="137.18" r="0.55"/><circle cx="454.39" cy="135.39" r="0.55"/><circle cx="456.18" cy="133.86" r="0.55"/><circle cx="458.19" cy="132.63" r="0.55"/><circle cx="460.36" cy="131.73" r="0.55"/><circle cx="462.65" cy="131.18" r="0.55"/><circle cx="465.00" cy="131.00" r="0.55"/><circle cx="467.35" cy="131.18" r="0.55"/><circle cx="469.64" cy="131.73" r="0.55"/><circle cx="471.81" cy="132.63" r="0.55"/><circle cx="473.82" cy="133.86" r="0.55"/><circle cx="475.61" cy="135.39" r="0.55"/><circle cx="477.14" cy="137.18" r="0.55"/><circle cx="478.37" cy="139.19" r="0.55"/><circle cx="479.27" cy="141.36" r="0.55"/><circle cx="479.82" cy="143.65" r="0.55"/><circle cx="482.00" cy="146.00" r="0.55"/><circle cx="481.84" cy="148.31" r="0.55"/><circle cx="481.37" cy="150.59" r="0.55"/><circle cx="480.59" cy="152.77" r="0.55"/><circle cx="479.53" cy="154.83" r="0.55"/><circle cx="478.19" cy="156.73" r="0.55"/><circle cx="476.60" cy="158.42" r="0.55"/><circle cx="474.80" cy="159.89" r="0.55"/><circle cx="472.82" cy="161.09" r="0.55"/><circle cx="470.69" cy="162.02" r="0.55"/><circle cx="468.46" cy="162.64" r="0.55"/><circle cx="466.16" cy="162.96" r="0.55"/><circle cx="463.84" cy="162.96" r="0.55"/><circle cx="461.54" cy="162.64" r="0.55"/><circle cx="459.31" cy="162.02" r="0.55"/><circle cx="457.18" cy="161.09" r="0.55"/><circle cx="455.20" cy="159.89" r="0.55"/><circle cx="453.40" cy="158.42" r="0.55"/><circle cx="451.81" cy="156.73" r="0.55"/><circle cx="450.47" cy="154.83" r="0.55"/><circle cx="449.41" cy="152.77" r="0.55"/><circle cx="448.63" cy="150.59" r="0.55"/><circle cx="448.16" cy="148.31" r="0.55"/><circle cx="448.00" cy="146.00" r="0.55"/><circle cx="448.16" cy="143.69" r="0.55"/><circle cx="448.63" cy="141.41" r="0.55"/><circle cx="449.41" cy="139.23" r="0.55"/><circle cx="450.47" cy="137.17" r="0.55"/><circle cx="451.81" cy="135.27" r="0.55"/><circle cx="453.40" cy="133.58" r="0.55"/><circle cx="455.20" cy="132.11" r="0.55"/><circle cx="457.18" cy="130.91" r="0.55"/><circle cx="459.31" cy="129.98" r="0.55"/><circle cx="461.54" cy="129.36" r="0.55"/><circle cx="463.84" cy="129.04" r="0.55"/><circle cx="466.16" cy="129.04" r="0.55"/><circle cx="468.46" cy="129.36" r="0.55"/><circle cx="470.69" cy="129.98" r="0.55"/><circle cx="472.82" cy="130.91" r="0.55"/><circle cx="474.80" cy="132.11" r="0.55"/><circle cx="476.60" cy="133.58" r="0.55"/><circle cx="478.19" cy="135.27" r="0.55"/><circle cx="479.53" cy="137.17" r="0.55"/><circle cx="480.59" cy="139.23" r="0.55"/><circle cx="481.37" cy="141.41" r="0.55"/><circle cx="481.84" cy="143.69" r="0.55"/></g><g fill="#333"><circle cx="468.10" cy="146.80" r="0.5"/><circle cx="467.04" cy="148.47" r="0.5"/><circle cx="465.20" cy="149.19" r="0.5"/><circle cx="463.29" cy="148.70" r="0.5"/><circle cx="462.02" cy="147.18" r="0.5"/><circle cx="461.90" cy="145.20" r="0.5"/><circle cx="462.96" cy="143.53" r="0.5"/><circle cx="464.80" cy="142.81" r="0.5"/><circle cx="466.71" cy="143.30" r="0.5"/><circle cx="467.98" cy="144.82" r="0.5"/><circle cx="470.14" cy="146.81" r="0.5"/><circle cx="469.43" cy="148.72" r="0.5"/><circle cx="468.06" cy="150.21" r="0.5"/><circle cx="466.21" cy="151.06" r="0.5"/><circle cx="464.19" cy="151.14" r="0.5"/><circle cx="462.28" cy="150.43" r="0.5"/><circle cx="460.79" cy="149.06" r="0.5"/><circle cx="459.94" cy="147.21" r="0.5"/><circle cx="459.86" cy="145.19" r="0.5"/><circle cx="460.57" cy="143.28" r="0.5"/><circle cx="461.94" cy="141.79" r="0.5"/><circle cx="463.79" cy="140.94" r="0.5"/><circle cx="465.81" cy="140.86" r="0.5"/><circle cx="467.72" cy="141.57" r="0.5"/><circle cx="469.21" cy="142.94" r="0.5"/><circle cx="470.06" cy="144.79" r="0.5"/><circle cx="472.00" cy="146.00" r="0.5"/><circle cx="471.69" cy="148.06" r="0.5"/><circle cx="470.78" cy="149.94" r="0.5"/><circle cx="469.36" cy="151.47" r="0.5"/><circle cx="467.56" cy="152.52" r="0.5"/><circle cx="465.52" cy="152.98" r="0.5"/><circle cx="463.44" cy="152.82" r="0.5"/><circle cx="461.50" cy="152.06" r="0.5"/><circle cx="459.87" cy="150.76" r="0.5"/><circle cx="458.69" cy="149.04" r="0.5"/><circle cx="458.08" cy="147.04" r="0.5"/><circle cx="458.08" cy="144.96" r="0.5"/><circle cx="458.69" cy="142.96" r="0.5"/><circle cx="459.87" cy="141.24" r="0.5"/><circle cx="461.50" cy="139.94" r="0.5"/><circle cx="463.44" cy="139.18" r="0.5"/><circle cx="465.52" cy="139.02" r="0.5"/><circle cx="467.56" cy="139.48" r="0.5"/><circle cx="469.36" cy="140.53" r="0.5"/><circle cx="470.78" cy="142.06" r="0.5"/><circle cx="471.69" cy="143.94" r="0.5"/></g>
<rect class="w" x="463.6" y="130" width="2.8" height="6"/>
<rect class="w" x="463.6" y="158" width="2.8" height="11"/>
<!-- slider -->
<rect class="w" x="428.7" y="200.3" width="2.9" height="7.4"/>
<path class="w" d="M427.3,207.7 H437.3 C440,210.5 452,210.5 454.7,207.7 H469.3 V221 H454.7 C452,218 440,218 437.3,221 H427.3 Z"/>
<path class="o" d="M437.3,207.7 V221 M454.7,207.7 V221"/>
<path class="o" d="M459.6,207.7 C462,210 468,210 469.3,207.7" stroke-width="0.8"/>
<!-- hose -->
<path d="M465,221 L466,295 C467,330 474,370 484,400 C488,412 492,420 496,428 C508,455 524,490 529.5,518 C533,545 525,568 503,580 C490,585 470,583 459,567 C452,557 447,545 445,533" fill="none" stroke="#808080" stroke-width="5"/>
<path d="M465,221 L466,295 C467,330 474,370 484,400 C488,412 492,420 496,428 C508,455 524,490 529.5,518 C533,545 525,568 503,580 C490,585 470,583 459,567 C452,557 447,545 445,533" fill="none" stroke="#d8d8d8" stroke-width="3.4" stroke-dasharray="1 0.8"/>
<!-- dims front -->
<g class="d">
<path d="M427,221 V232"/><path d="M469,221 V232"/>
<path d="M420,228 H427" marker-end="url(#a)"/><path d="M485,228 H469" marker-end="url(#a)"/><path d="M427,228 H469"/>
<path d="M385,426 H394"/><path d="M385,440 H394"/>
<path d="M387,426 V440" marker-start="url(#a)" marker-end="url(#a)"/>
<path d="M394,440 V455"/><path d="M497,440 V455"/>
<path d="M394,452 H497" marker-start="url(#a)" marker-end="url(#a)"/>
<path d="M418.3,486 V503"/><path d="M472.5,486 V503"/>
<path d="M418.3,488.3 H472.5" marker-start="url(#a)" marker-end="url(#a)"/>
<path d="M407.5,503 V593"/><path d="M483.5,503 V593"/>
<path d="M407.5,590.7 H483.5" marker-start="url(#a)" marker-end="url(#a)"/>
</g>
<text transform="translate(479,227) scale(0.082,0.1)" text-anchor="middle">117</text>
<text transform="translate(384.5,434) rotate(-90) scale(0.082,0.1)" text-anchor="middle">40</text>
<text transform="translate(425,450.5) scale(0.082,0.1)" text-anchor="middle">282</text>
<text transform="translate(431,487) scale(0.082,0.1)" text-anchor="middle">150±18</text>
<text transform="translate(444.5,588.5) scale(0.082,0.1)" text-anchor="middle">214</text>
<!-- tray front -->
<g>
<rect class="w" x="394.3" y="425.8" width="102.7" height="14"/>
<path class="o" d="M394.3,429.3 H497"/>
<path class="o" d="M396.5,429.5 V434.5 C396.5,435.8 397,435.8 398,435.8 H407.7 V429.5"/>
<path class="o" d="M408.3,429.5 V434.5 C408.3,435.8 409,435.8 410,435.8 H411.3 V429.5"/>
<path class="o" d="M414.2,429.5 V434 C414.2,435.8 415,435.8 416.5,435.8 H433 C434.5,435.8 435.2,435.8 435.2,434 V429.5"/>
<path class="o" d="M436.3,429.5 V434 C436.3,435.8 437,435.8 438.5,435.8 H442.3 V429.5"/>
<path class="o" d="M448,429.5 V434 C448,435.8 448.5,435.8 450,435.8 H454.5 V429.5"/>
<path class="o" d="M455.7,429.5 V434 C455.7,435.8 456.5,435.8 458,435.8 H474 C475.5,435.8 476,435.8 476,434 V429.5"/>
<path class="o" d="M480.2,429.5 V435.8 H482 V429.5"/>
<path class="o" d="M483.7,429.5 V435.8 H487.2 V429.5"/>
<path class="o" d="M488.3,429.5 V435.8 H494.8 V429.5 M488.3,432.5 H494.8"/>
</g>
<!-- mixer front -->
<g>
<circle class="w" cx="417.6" cy="503.5" r="11.2"/>
<circle class="w" cx="472.8" cy="503.5" r="11"/>
<rect class="w" x="413" y="497.5" width="65.3" height="12.2" rx="4"/>
<path d="M440.5,464 H450.2 V493 C450.2,495.5 452,497.5 455,497.5 H436 C439,497.5 440.5,495.5 440.5,493 Z" fill="#fff" stroke="none"/>
<path class="o" d="M436,497.5 C439,497.5 440.5,495.5 440.5,493 V464 H450.2 V493 C450.2,495.5 452,497.5 455,497.5"/>
<path class="o" d="M440.5,469 H450.2"/>
<circle class="w" cx="445.6" cy="477.3" r="4.4"/>
<path class="w" d="M437.5,501 C437.5,497.5 440.5,496 445.7,496 C451,496 454,497.5 454,501 L452.6,529 C452.5,531.5 450,531.8 445.8,531.8 C441.5,531.8 439.3,531.5 439.2,529 Z"/>
<path d="M440,502 L441,528" stroke="#999" stroke-width="0.5" fill="none"/>
</g>
<path class="d" d="M418.3,497.5 V503 M472.5,497.5 V503"/>
</svg>
</body></html>
